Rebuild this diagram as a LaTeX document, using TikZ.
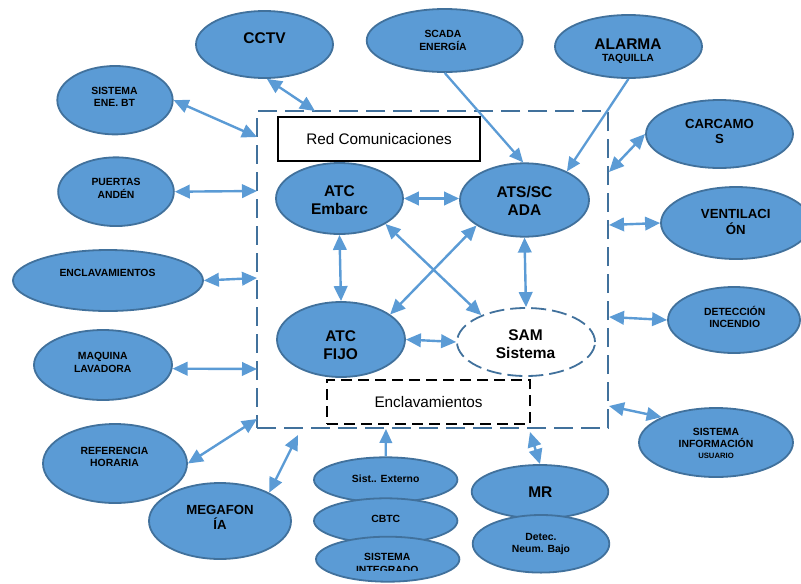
\documentclass[tikz,border=0pt]{standalone}
\usepackage{fontspec}
\setmainfont{Liberation Sans}
\usetikzlibrary{arrows.meta,shapes.geometric}
\definecolor{fillblue}{HTML}{5B9BD5}
\definecolor{edgeblue}{HTML}{41719C}
\definecolor{linkblue}{HTML}{5B9BD5}

\begin{document}
\begin{tikzpicture}[x=1pt,y=-1pt,
  oval/.style={ellipse, draw=edgeblue, fill=fillblue, line width=1.8pt, inner sep=0pt},
  bigtxt/.style={font=\bfseries\fontsize{15.5}{18}\selectfont, align=center, inner sep=0pt},
  midtxt/.style={font=\bfseries\fontsize{13.2}{15.5}\selectfont, align=center, inner sep=0pt},
  smalltxt/.style={font=\bfseries\fontsize{10.4}{12.4}\selectfont, align=center, inner sep=0pt},
  tinytxt/.style={font=\bfseries\fontsize{7.7}{9}\selectfont, inner sep=0pt},
  plaintxt/.style={font=\fontsize{15.3}{18}\selectfont, inner sep=0pt},
  link/.style={draw=linkblue, line width=2.4pt, {Triangle[length=15pt,width=13.5pt]}-{Triangle[length=15pt,width=13.5pt]}},
  feed/.style={draw=linkblue, line width=2.3pt, -{Triangle[length=14pt,width=12.5pt]}},
]
\useasboundingbox (0,0) rectangle (801,584);

% communications network frame
\node[draw=edgeblue, line width=2.2pt, dash pattern=on 19pt off 8pt,
      minimum width=351pt, minimum height=317pt, inner sep=0pt] (net) at (432.5,269.5) {};
\node[draw=black, line width=1.6pt, minimum width=202pt, minimum height=44pt,
      plaintxt] (redcom) at (379,139) {Red Comunicaciones};
\node[draw=black, line width=1.6pt, dash pattern=on 11pt off 6pt,
      minimum width=203pt, minimum height=44pt, plaintxt] (enclbox) at (428.5,402) {Enclavamientos};

% core systems
\node[oval, minimum width=127pt, minimum height=71pt] (embarc) at (339.5,198.5) {};
\node[bigtxt] (embarc-t) at (339.5,200.3) {ATC\\Embarc};
\node[oval, minimum width=129pt, minimum height=73.4pt] (ats) at (524.5,200) {};
\node[bigtxt] (ats-t) at (524.5,200.5) {ATS/SC\\ADA};
\node[oval, minimum width=128pt, minimum height=75pt] (fijo) at (341,339.5) {};
\node[bigtxt] (fijo-t) at (340.7,344.8) {ATC\\FIJO};
\node[ellipse, draw=edgeblue, fill=white, line width=1.8pt, dash pattern=on 15pt off 6pt,
      inner sep=0pt, minimum width=138pt, minimum height=68pt] (sam) at (526,342) {};
\begin{scope}
  \clip (450,300) rectangle (600,359.8);
  \node[bigtxt] (sam-t) at (525.6,344) {SAM\\Sistema};
\end{scope}

% surrounding systems
\node[oval, minimum width=137pt, minimum height=67pt] (cctv) at (264.5,44.5) {};
\node[bigtxt] (cctv-t) at (264.5,38) {CCTV};
\node[oval, minimum width=115.4pt, minimum height=68.4pt] (sisbt) at (115,100.2) {};
\node[smalltxt] (sisbt-t) at (114.5,97) {SISTEMA\\ENE. BT};
\node[oval, minimum width=156pt, minimum height=63pt] (scada) at (444.7,40.5) {};
\node[smalltxt] (scada-t) at (443,40.5) {SCADA\\ENERGÍA};
\node[oval, minimum width=147pt, minimum height=63pt] (alarma) at (628.5,46.5) {};
\node[bigtxt] (alarma-t) at (628,44) {ALARMA};
\node[smalltxt] (alarma-s) at (628,58.7) {TAQUILLA};
\node[oval, minimum width=147pt, minimum height=68pt] (carc) at (719.5,134) {};
\node[midtxt] (carc-t) at (719.5,131.5) {CARCAMO\\S};
\node[oval, minimum width=115.7pt, minimum height=68.7pt] (puertas) at (116,191.7) {};
\node[smalltxt] (puertas-t) at (116,188.5) {PUERTAS\\ANDÉN};
\node[oval, minimum width=190pt, minimum height=61pt] (enclav) at (108,280.5) {};
\node[smalltxt] (enclav-t) at (107.5,273) {ENCLAVAMIENTOS};
\node[oval, minimum width=150pt, minimum height=72pt] (venti) at (736,223) {};
\node[midtxt] (venti-t) at (735.8,222) {VENTILACI\\ÓN};
\node[oval, minimum width=132pt, minimum height=66pt] (detinc) at (734,320) {};
\node[smalltxt] (detinc-t) at (734.7,317) {DETECCIÓN\\INCENDIO};
\node[oval, minimum width=138pt, minimum height=70pt] (maq) at (103,365) {};
\node[smalltxt] (maq-t) at (102.7,362.3) {MAQUINA\\LAVADORA};
\node[oval, minimum width=154pt, minimum height=69pt] (sysinfo) at (716,442.5) {};
\node[smalltxt] (sysinfo-t) at (716,438) {SISTEMA\\INFORMACIÓN};
\node[tinytxt] (sysinfo-s) at (716,455.8) {USUARIO};
\node[oval, minimum width=144pt, minimum height=79pt] (ref) at (115,463.5) {};
\node[smalltxt] (ref-t) at (114.5,457) {REFERENCIA\\HORARIA};
\node[oval, minimum width=142pt, minimum height=76pt] (mega) at (220,521) {};
\node[midtxt] (mega-t) at (220,517.5) {MEGAFON\\ÍA};

% stacked external systems
\node[oval, minimum width=143.4pt, minimum height=45pt] (ext) at (385.7,479.8) {};
\node[smalltxt] (ext-t) at (385.7,479) {Sist.. Externo};
\node[oval, minimum width=143.4pt, minimum height=45pt] (cbtc) at (385.7,520.8) {};
\node[smalltxt] (cbtc-t) at (385.8,518.7) {CBTC};
\node[oval, minimum width=143.4pt, minimum height=45pt] (integ) at (387.7,559.2) {};
\begin{scope}
  \clip (310,540) rectangle (465,570);
  \node[smalltxt] (integ-t) at (387.3,563.5) {SISTEMA\\INTEGRADO};
\end{scope}
\node[oval, minimum width=136.6pt, minimum height=53.4pt] (mr) at (540,491.7) {};
\node[bigtxt] (mr-t) at (540.3,492) {MR};
\node[oval, minimum width=136.6pt, minimum height=57.6pt] (neum) at (541,543.8) {};
\node[smalltxt] (neum-t) at (541,543.7) {Detec.\\Neum. Bajo};

% connection points on the network frame
\coordinate (cctv-in) at (315,111);
\coordinate (sisbt-in) at (257,137);
\coordinate (carc-in) at (609,172);
\coordinate (puertas-in) at (257,191);
\coordinate (enclav-in) at (257,278);
\coordinate (maq-in) at (257,369);
\coordinate (venti-in) at (609,225);
\coordinate (detinc-in) at (609,317);
\coordinate (sysinfo-in) at (609,406);
\coordinate (ref-in) at (257,419);
\coordinate (mega-in) at (298,435);
\coordinate (ext-in) at (386,429);
\coordinate (mr-in) at (530,432);

% links to the network
\draw[link] (cctv.-86) -- (cctv-in);
\draw[link] (sisbt.east) -- (sisbt-in);
\draw[link] (carc.west) -- (carc-in);
\draw[link] (puertas.east) -- (puertas-in);
\draw[link] (enclav.east) -- (enclav-in);
\draw[link] (maq.-3) -- (maq-in);
\draw[link] (venti.west) -- (venti-in);
\draw[link] (detinc.west) -- (detinc-in);
\draw[link] (sysinfo.155) -- (sysinfo-in);
\draw[link] (ref.east) -- (ref-in);
\draw[link] (mega.30) -- (mega-in);
\draw[feed] (ext.north) -- (ext-in);
\draw[link] (mr.north) -- (mr-in);
\draw[feed] (scada.south) -- (ats.92);
\draw[feed] (alarma.south) -- (ats.34);

% links between core systems
\draw[link] (embarc.east) -- (ats.west |- embarc.east);
\draw[link] (embarc.south) -- (fijo.north);
\draw[link] (ats.south) -- (sam.north);
\draw[link] (fijo.east) -- (sam.west);
\draw[link] (embarc.-29) -- (sam.149);
\draw[link] (ats.208) -- (fijo.27);
\end{tikzpicture}
\end{document}
